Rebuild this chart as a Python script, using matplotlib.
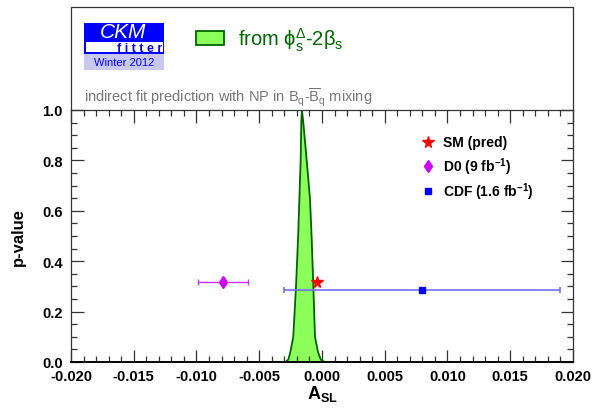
import numpy as np
import matplotlib
matplotlib.use('Agg')
import matplotlib.pyplot as plt
from matplotlib.patches import Rectangle
from matplotlib.lines import Line2D

plt.rcParams['font.family'] = ['Liberation Sans', 'DejaVu Sans']
plt.rcParams['mathtext.fontset'] = 'custom'
plt.rcParams['mathtext.rm'] = 'Liberation Sans'
plt.rcParams['mathtext.it'] = 'Liberation Sans:italic'
plt.rcParams['mathtext.bf'] = 'Liberation Sans:bold'
plt.rcParams['mathtext.default'] = 'regular'

# p-value profile of A_SL from the NP fit (phi_s^Delta - 2 beta_s)
asl = [-0.0040, -0.0029, -0.00268, -0.00252, -0.00229, -0.00207, -0.0019, -0.0017,
       -0.00165, -0.0016, -0.00149, -0.00122, -0.00096, -0.00083, -0.00069,
       -0.00056, -0.00032, -0.0001, 0.0002, 0.0040]
pval = [0.0, 0.0, 0.01, 0.04, 0.10, 0.30, 0.50, 0.80,
        0.95, 1.0, 0.95, 0.80, 0.65, 0.50, 0.30,
        0.10, 0.04, 0.01, 0.0, 0.0]

# measurements
sm_x, sm_p = -0.0004, 0.317
d0_x, d0_err, d0_p = -0.0079, 0.0020, 0.317
cdf_x, cdf_err, cdf_p = 0.0080, 0.0110, 0.286

xticks = [-0.020, -0.015, -0.010, -0.005, 0.000, 0.005, 0.010, 0.015, 0.020]
yticks = [0.0, 0.2, 0.4, 0.6, 0.8, 1.0]

W, H = 592, 410
fig = plt.figure(figsize=(W / 100.0, H / 100.0), dpi=100)
L, R, B, T = 71, 573, 363, 111
ax = fig.add_axes([L / W, 1 - B / H, (R - L) / W, (B - T) / H])

ax.fill_between(asl, pval, 0, color='#8cff5a', lw=0)
ax.plot(asl, pval, color='#006400', lw=1.3)

ax.errorbar(cdf_x, cdf_p, xerr=cdf_err, fmt='s', color='#0000ff', ms=5,
            ecolor='#6f6fff', elinewidth=1.2, capsize=2, capthick=1.2)
ax.errorbar(d0_x, d0_p, xerr=d0_err, fmt='d', color='#cc00ff', ms=6,
            ecolor='#cc33ff', elinewidth=1.0, capsize=2, capthick=1.0)
ax.plot(sm_x, sm_p, '*', color='#ff0000', ms=8.5, mec='#ff0000')

ax.set_xlim(-0.020, 0.020)
ax.set_ylim(0.0, 1.0)
ax.set_xticks(xticks)
ax.set_xticklabels(['%.3f' % v for v in xticks])
ax.set_yticks(yticks)
ax.set_yticklabels(['%.1f' % v for v in yticks])
ax.set_xticks(np.arange(-0.020, 0.0201, 0.001), minor=True)
ax.set_yticks(np.arange(0.0, 1.001, 0.05), minor=True)
ax.tick_params(which='both', direction='in', top=True, right=True,
               color='#333333', width=0.9)
ax.tick_params(which='major', length=9, labelsize=10.5)
ax.tick_params(which='minor', length=4.5)
for lab in ax.get_xticklabels() + ax.get_yticklabels():
    lab.set_fontweight('bold')
ax.tick_params(axis='x', pad=5)
ax.tick_params(axis='y', pad=6)
for s in ax.spines.values():
    s.set_color('#333333')
    s.set_linewidth(0.9)
ax.spines['bottom'].set_linewidth(1.4)
ax.spines['bottom'].set_color('black')

ax.set_xlabel(r'$\mathbf{A}_{\mathbf{SL}}$', fontsize=13, labelpad=0)
fig.text(18 / W, 1 - 237 / H, 'p-value', rotation=90, fontsize=12,
         fontweight='bold', ha='center', va='center')

# legend for measurements
lx, tx = 0.711, 0.741
ax.plot(lx, 0.873, '*', color='#ff0000', ms=8.5, transform=ax.transAxes, clip_on=False)
ax.plot(lx, 0.778, 'd', color='#cc00ff', ms=6, transform=ax.transAxes, clip_on=False)
ax.plot(lx, 0.679, 's', color='#0000ff', ms=4.5, transform=ax.transAxes, clip_on=False)
ax.text(tx, 0.873, 'SM (pred)', transform=ax.transAxes, fontsize=10,
        fontweight='bold', va='center')
ax.text(tx, 0.778, r'D0 (9 fb$^{\mathbf{-1}}$)', transform=ax.transAxes, fontsize=10,
        fontweight='bold', va='center')
ax.text(tx, 0.679, r'CDF (1.6 fb$^{\mathbf{-1}}$)', transform=ax.transAxes, fontsize=10,
        fontweight='bold', va='center')

# header frame above the plot
fx = lambda p: p / W
fy = lambda p: 1 - p / H
fig.add_artist(Line2D([fx(L), fx(L), fx(R), fx(R)], [fy(T), fy(8), fy(8), fy(T)],
                      color='#333333', lw=0.9))

# CKMfitter logo
fig.add_artist(Rectangle((fx(84), fy(71)), 80 / W, 16 / H, color='#c8c8f0', lw=0))
fig.add_artist(Rectangle((fx(84), fy(55)), 80 / W, 31 / H, color='#0000ff', lw=0))
fig.add_artist(Rectangle((fx(86), fy(53)), 77 / W, 10 / H, color='white', lw=0))
fig.text(fx(123), fy(32.5), 'CKM', fontsize=15, style='italic', color='white',
         ha='center', va='center')
fig.text(fx(162), fy(48.5), 'f i t t e r', fontsize=9, fontweight='bold',
         color='#0000ff', ha='right', va='center')
fig.text(fx(124), fy(63.5), 'Winter 2012', fontsize=8, color='#0000ff',
         ha='center', va='center')

# fit legend entry
fig.add_artist(Rectangle((fx(196), fy(46)), 28 / W, 14 / H, facecolor='#8cff5a',
                         edgecolor='#006400', lw=1.3))
fig.text(fx(238), fy(40), r'from $\phi_s^\Delta$-2$\beta_s$', fontsize=14.5,
         color='#006600', va='center')

fig.text(fx(84), fy(97), r'indirect fit prediction with NP in B$_q$-$\overline{B}_q$ mixing',
         fontsize=10.5, color='#777777', va='center')

fig.savefig('out.png', dpi=100)
